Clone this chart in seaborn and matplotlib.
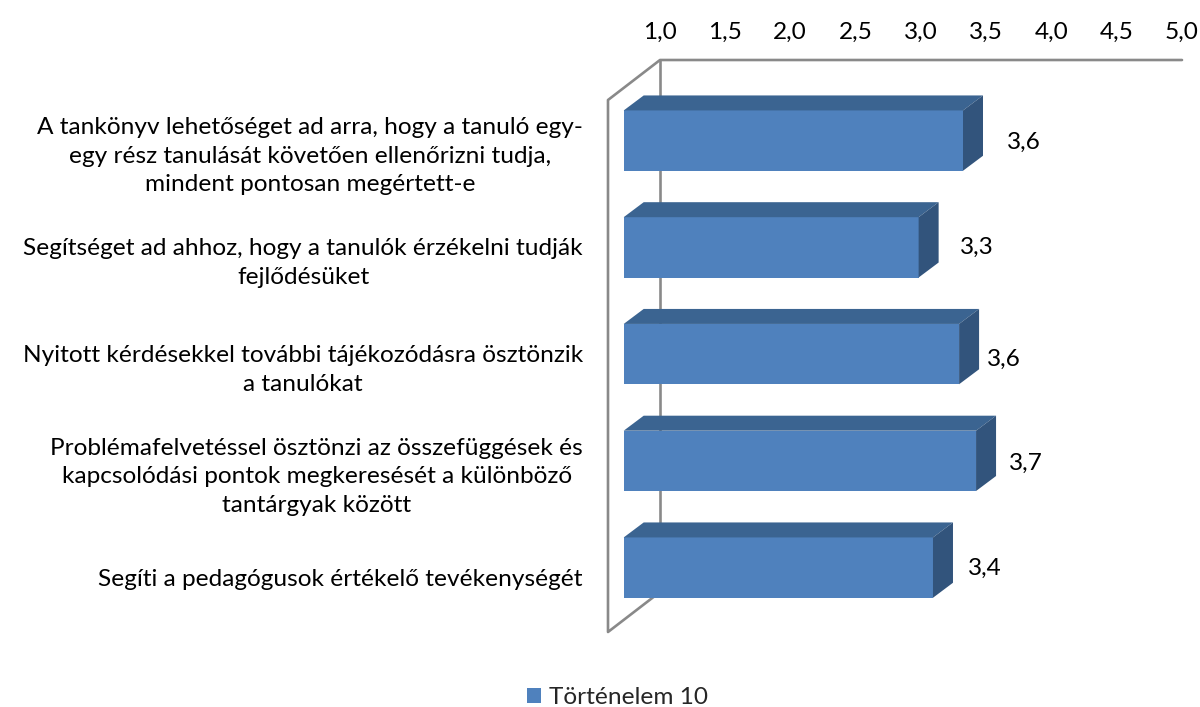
import matplotlib
matplotlib.use('Agg')
import seaborn as sns
import pandas as pd
import matplotlib.pyplot as plt
from matplotlib.transforms import ScaledTranslation

categories = [
    'A tankönyv lehetőséget ad arra, hogy a tanuló egy-\negy rész tanulását követően ellenőrizni tudja,\nmindent pontosan megértett-e',
    'Segítséget ad ahhoz, hogy a tanulók érzékelni tudják\nfejlődésüket',
    'Nyitott kérdésekkel további tájékozódásra ösztönzik\na tanulókat',
    'Problémafelvetéssel ösztönzi az összefüggések és\nkapcsolódási pontok megkeresését a különböző\ntantárgyak között',
    'Segíti a pedagógusok értékelő tevékenységét',
]
values = [3.6, 3.26, 3.57, 3.7, 3.37]
value_labels = ['3,6', '3,3', '3,6', '3,7', '3,4']
x_ticks = [1.0, 1.5, 2.0, 2.5, 3.0, 3.5, 4.0, 4.5, 5.0]
series_name = 'Történelem 10'

sns.set_theme(style='white')
plt.rcParams['font.family'] = ['Lato', 'DejaVu Sans']

W, H = 1200, 707
FS = 17.6
fig = plt.figure(figsize=(W / 100, H / 100), dpi=100)
ax = fig.add_axes([608 / W, 1 - 632 / H, (1182 - 608) / W, (632 - 60) / H])
ax.patch.set_alpha(0)

df = pd.DataFrame({'cat': categories, 'val': values})
sns.barplot(data=df, y='cat', x='val', ax=ax, color='#4F81BD', saturation=1,
            width=0.565, label=series_name, zorder=3, linewidth=0)

# pixel scale of the chart
px_x = 130.5
px_y = 106.75
ax.set_xlim(1 + (608 - 623.7) / px_x, 1 + (1182 - 623.7) / px_x)
ax.set_ylim((632 - 140.6) / px_y, (60 - 140.6) / px_y)
depth_x = 20 / px_x
depth_y = 15 / px_y

# scale starts at 1, so the bars do too; then top and side of each bar
for bar in ax.patches:
    x1 = bar.get_x() + bar.get_width()
    bar.set_x(x_ticks[0])
    bar.set_width(x1 - x_ticks[0])
    x0 = bar.get_x()
    y0, y1 = bar.get_y(), bar.get_y() + bar.get_height()
    ax.fill([x0, x1, x1 + depth_x, x0 + depth_x], [y0, y0, y0 - depth_y, y0 - depth_y],
            color='#3B6491', lw=0, zorder=3)
    ax.fill([x1, x1 + depth_x, x1 + depth_x, x1], [y0, y0 - depth_y, y1 - depth_y, y1],
            color='#32547C', lw=0, zorder=3)

# walls of the 3d box, axes fractions
wall = dict(color='#898989', lw=1.9, transform=ax.transAxes, zorder=1, clip_on=False,
            solid_capstyle='round')
back = 52 / 574
ax.plot([1, back, 0, 0, back], [1, 1, 1 - 40 / 572, 0, 40 / 572], **wall)
ax.plot([back, back], [1, 40 / 572], **wall)

for s in ax.spines.values():
    s.set_visible(False)
ax.set_xlabel('')
ax.set_ylabel('')
ax.set_xticks([])

ax.tick_params(axis='y', length=0, pad=18, labelsize=FS, labelcolor='black')
shift = ScaledTranslation(0, -10 / 100, fig.dpi_scale_trans)
for lab in ax.get_yticklabels():
    lab.set_multialignment('center')
    lab.set_linespacing(1.44)
    lab.set_transform(lab.get_transform() + shift)

top = ax.secondary_xaxis('top', functions=(lambda v: v - 36 / px_x, lambda v: v + 36 / px_x))
top.set_xticks(x_ticks)
top.set_xticklabels([f'{t:.1f}'.replace('.', ',') for t in x_ticks])
top.tick_params(axis='x', length=0, pad=12.5, labelsize=FS, labelcolor='black')
top.spines['top'].set_visible(False)

# data labels were moved by hand in the original
nudge = [(61, 2), (58, 0), (45, 5), (50, 2), (52, 1)]
for bar, txt, (nx, ny) in zip(ax.patches, value_labels, nudge):
    ax.annotate(txt, (bar.get_x() + bar.get_width(), bar.get_y() + bar.get_height() / 2),
                xytext=(nx * 0.72, -ny * 0.72), textcoords='offset points',
                ha='center', va='center', fontsize=FS, color='black', zorder=5)

ax.legend(loc='center', bbox_to_anchor=(617.5 / W, 1 - 697.5 / H), bbox_transform=fig.transFigure,
          frameon=False, fontsize=FS, handlelength=0.57, handleheight=0.57,
          handletextpad=0.35, borderpad=0, borderaxespad=0)

fig.savefig('out.png', dpi=100)
